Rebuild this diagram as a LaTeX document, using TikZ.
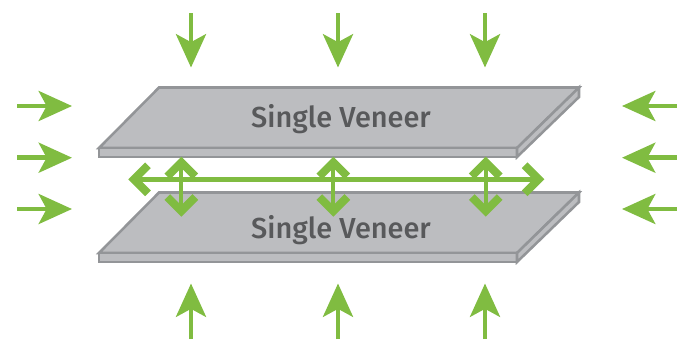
\documentclass[tikz,border=0pt]{standalone}
\usepackage{fontspec}
\setmainfont{Fira Sans Medium}
\usetikzlibrary{arrows.meta}
\definecolor{leaf}{HTML}{80BC41}
\definecolor{slab}{HTML}{BCBDC0}
\definecolor{slabedge}{HTML}{939598}
\definecolor{slabtext}{HTML}{58595B}
\tikzset{
  slabface/.style={fill=slab,draw=slabedge,line width=1.9pt,line join=miter},
  slabname/.style={text=slabtext,font=\fontsize{21.7}{24}\selectfont,inner sep=0pt},
  press/.style={draw=leaf,line width=3.4pt,-{Stealth[length=25pt,width=22.5pt,inset=6pt,fill=leaf]}},
  spreadv/.style={draw=leaf,line width=3pt,{Straight Barb[length=10.5pt,width=21pt,line width=6pt]}-{Straight Barb[length=10.5pt,width=21pt,line width=6pt]}},
  spreadh/.style={draw=leaf,line width=3.4pt,{Straight Barb[length=10.5pt,width=21pt,line width=6pt]}-{Straight Barb[length=10.5pt,width=21pt,line width=6pt]}}
}
\begin{document}
\begin{tikzpicture}[x=0.75pt,y=-0.75pt]
\useasboundingbox (0,0) rectangle (677,340);
% upper slab
\draw[slabface] (159,87.5) -- (579,87.5) -- (517,148) -- (99,148) -- cycle;
\draw[slabface] (99,148) -- (517,148) -- (517,157) -- (99,157) -- cycle;
\draw[slabface] (579,87.5) -- (579,97) -- (517,157) -- (517,148) -- cycle;
\node[slabname] (upper) at (341,119.5) {Single Veneer};
% lower slab
\draw[slabface] (159,192.5) -- (579,192.5) -- (517,253) -- (99,253) -- cycle;
\draw[slabface] (99,253) -- (517,253) -- (517,262) -- (99,262) -- cycle;
\draw[slabface] (579,192.5) -- (579,202) -- (517,262) -- (517,253) -- cycle;
\node[slabname] (lower) at (341,230) {Single Veneer};
% press arrows
\foreach \n/\x in {a/191,b/338,c/485}{
  \coordinate (t\n s) at (\x,13);  \coordinate (t\n e) at (\x,67.5);
  \coordinate (b\n s) at (\x,339); \coordinate (b\n e) at (\x,283.5);
  \draw[press] (t\n s) -- (t\n e);
  \draw[press] (b\n s) -- (b\n e);
}
\foreach \n/\y in {a/106,b/157.7,c/209}{
  \coordinate (l\n s) at (17,\y);  \coordinate (l\n e) at (72,\y);
  \coordinate (r\n s) at (677,\y); \coordinate (r\n e) at (622,\y);
  \draw[press] (l\n s) -- (l\n e);
  \draw[press] (r\n s) -- (r\n e);
}
% spreading arrows
\coordinate (hl) at (128.3,179.3);
\coordinate (hr) at (544.3,179.3);
\draw[spreadh] (hl) -- (hr);
\foreach \n/\x in {a/181.3,b/333.3,c/485.7}{
  \coordinate (v\n t) at (\x,156.7);
  \coordinate (v\n b) at (\x,216.7);
  \draw[spreadv] (v\n t) -- (v\n b);
}
\end{tikzpicture}
\end{document}
